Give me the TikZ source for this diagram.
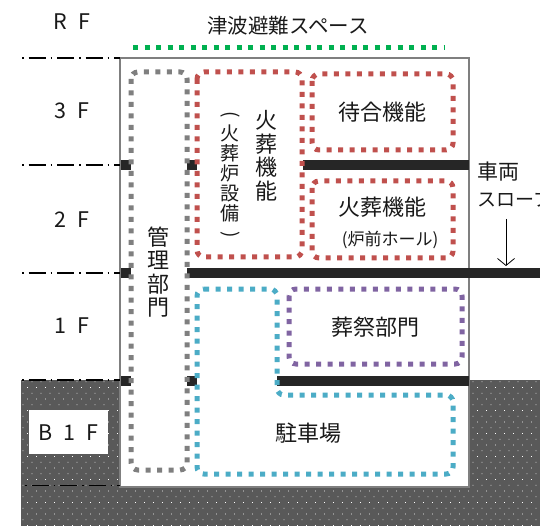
\documentclass[tikz,border=0pt]{standalone}
\usepackage{fontspec}
\setmainfont{Noto Sans CJK JP}
\usetikzlibrary{patterns,arrows.meta}
\definecolor{groundgray}{HTML}{595959}
\definecolor{wallgray}{HTML}{7F7F7F}
\definecolor{slabblack}{HTML}{262626}
\definecolor{zonegreen}{HTML}{00B050}
\definecolor{zonered}{HTML}{C0504D}
\definecolor{zoneblue}{HTML}{4BACC6}
\definecolor{zonepurple}{HTML}{8064A2}
\pgfdeclarepatternformonly{grounddots}{\pgfqpoint{-1pt}{-1pt}}{\pgfqpoint{9pt}{11pt}}{\pgfqpoint{9pt}{11.5pt}}{
  \pgfpathrectangle{\pgfqpoint{0pt}{0pt}}{\pgfqpoint{0.9pt}{0.9pt}}
  \pgfpathrectangle{\pgfqpoint{4.5pt}{5.75pt}}{\pgfqpoint{0.9pt}{0.9pt}}
  \pgfusepath{fill}
}
\tikzset{
  zone/.style={line width=5pt, dash pattern=on 5pt off 6.5pt, rounded corners=7pt},
  floorline/.style={line width=1.4pt, black, dash pattern=on 1.5pt off 5pt on 17pt off 5pt},
  slab/.style={line width=10pt, slabblack},
  stub/.style={line width=10pt, slabblack},
  label/.style={font=\fontsize{22}{24}\selectfont, text=black!90, inner sep=0pt},
  floorlabel/.style={font=\fontsize{21.5}{24}\selectfont, text=black!90, inner sep=0pt},
  stacklabel/.style={font=\fontsize{22}{23.5}\selectfont, text=black!90, inner sep=0pt, align=center},
}
\begin{document}
\begin{tikzpicture}[x=1pt,y=-1pt]
  \useasboundingbox (0,0) rectangle (540,526);

  % Ground
  \fill[groundgray] (21,380) rectangle (540,526);
  \fill[pattern=grounddots, pattern color=white] (21,380) rectangle (540,526);

  % Building
  \draw[wallgray, fill=white, line width=2pt] (120,58) rectangle (469,487);

  % B1F label box
  \fill[white] (29,410) rectangle (108,454);

  % Floor lines
  \draw[floorline] (22,58) -- (120,58);
  \draw[floorline] (22,165) -- (120,165);
  \draw[floorline] (22,273) -- (120,273);
  \draw[floorline] (22,380) -- (120,380);
  \draw[floorline] (25,485.5) -- (120,485.5);

  % Slabs
  \draw[stub] (121,165) -- (131,165);
  \draw[stub] (187,165) -- (197,165);
  \draw[slab] (303,165.5) -- (469,165.5);
  \draw[stub] (121,273.5) -- (131,273.5);
  \draw[slab] (187,273.5) -- (540,273.5);
  \draw[stub] (121,380.5) -- (131,380.5);
  \draw[stub] (187,380.5) -- (197,380.5);
  \draw[slab] (277,380.5) -- (469,380.5);

  % Zones
  \draw[zone, zonegreen] (133,48) -- (445,48);
  \draw[zone, wallgray] (131,72) rectangle (187,470);
  \draw[zone, zonered] (197,72) rectangle (302,257);
  \draw[zone, zonered] (312,74) rectangle (453,150);
  \draw[zone, zonered] (312,181) rectangle (453,258);
  \draw[zone, zonepurple] (289,289) rectangle (462,364);
  \draw[zone, zoneblue] (197,289) -- (277,289) -- (277,395) -- (453,395)
    -- (453,474) -- (197,474) -- cycle;

  % Floor names
  \node[floorlabel] (rf) at (72,22) {R\hspace{11pt}F};
  \node[floorlabel] (f3) at (72,111) {3\hspace{11pt}F};
  \node[floorlabel] (f2) at (72,220) {2\hspace{11pt}F};
  \node[floorlabel] (f1) at (72,326) {1\hspace{11pt}F};
  \node[floorlabel] (b1f) at (68,433) {B\hspace{11pt}1\hspace{11pt}F};

  % Room names
  \node[label, font=\fontsize{20.5}{24}\selectfont] (tsunami) at (288,26) {津波避難スペース};
  \node[label] (machiai) at (382,112) {待合機能};
  \node[label] (kaso) at (382,207) {火葬機能};
  \node[label, font=\fontsize{17}{20}\selectfont] (rozen) at (390,240) {(炉前ホール)};
  \node[label] (sosai) at (375,327) {葬祭部門};
  \node[label] (chusha) at (308,433) {駐車場};
  \node[stacklabel] (kanri) at (158,272) {管\\理\\部\\門};
  \node[stacklabel] (kasov) at (266,156) {火\\葬\\機\\能};
  \node[stacklabel, font=\fontsize{19}{20}\selectfont] (setsubi) at (230,176)
    {\rotatebox[origin=c]{-90}{(}\\火\\葬\\炉\\設\\備\\\rotatebox[origin=c]{-90}{)}};
  \node[label, font=\fontsize{21}{24}\selectfont] (sharyo) at (498,172) {車両};
  \node[label, anchor=west, font=\fontsize{19}{24}\selectfont] (slope) at (477,199) {スロープ};

  % Arrow
  \coordinate (slopetop) at (506,219);
  \coordinate (slopeend) at (506,266);
  \draw[-{Straight Barb[length=7pt,width=17pt]}, line width=0.8pt] (slopetop) -- (slopeend);
\end{tikzpicture}
\end{document}
